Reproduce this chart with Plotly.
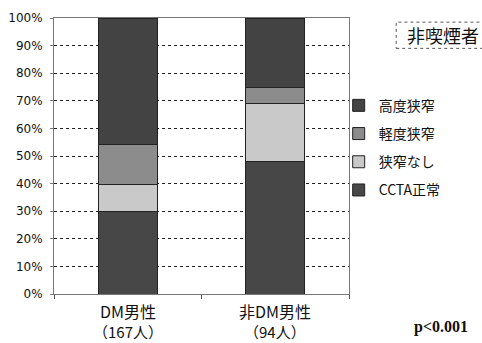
import plotly.graph_objects as go

# Groups on the x axis (name, patient count)
groups = ["DM男性", "非DM男性"]
counts = ["（167人）", "（94人）"]

# Share of each finding per group (%), stacked bottom to top
ccta_normal = [30, 48]
no_stenosis = [9.5, 21]
mild_stenosis = [14.5, 6]
severe_stenosis = [46, 25]

series = [
    ("CCTA正常", ccta_normal, "#474747"),
    ("狭窄なし", no_stenosis, "#c9c9c9"),
    ("軽度狭窄", mild_stenosis, "#8c8c8c"),
    ("高度狭窄", severe_stenosis, "#434343"),
]

y_ticks = list(range(0, 101, 10))
y_tick_text = [f"{v}%" for v in y_ticks]

fig = go.Figure()
for i, (name, vals, color) in enumerate(series):
    fig.add_trace(go.Bar(
        x=groups, y=vals, name=name, legendgroup=name,
        legendrank=len(series) - i,
        marker=dict(color=color, line=dict(color="#222222", width=1)),
        width=0.4,
    ))

fig.update_layout(
    width=482, height=343,
    margin=dict(l=54, r=133, t=18, b=49, autoexpand=False),
    barmode="stack",
    plot_bgcolor="white", paper_bgcolor="white",
    font=dict(family="Noto Sans CJK JP, Noto Sans, sans-serif", color="#111111"),
    showlegend=True,
    legend=dict(
        x=0.965, xanchor="left", y=0.74, yanchor="top",
        traceorder="grouped", tracegroupgap=7,
        font=dict(size=14, color="#111111"),
        itemwidth=30, bgcolor="rgba(0,0,0,0)",
    ),
    bargap=0.6,
)

fig.update_yaxes(
    range=[0, 100], tickvals=y_ticks, ticktext=y_tick_text,
    tickfont=dict(size=12, family="DejaVu Sans, sans-serif", color="#111111"),
    showgrid=True, gridcolor="#222222", griddash="dot", gridwidth=1,
    showline=True, linecolor="#777777", linewidth=1, mirror=True,
    ticks="outside", ticklen=3, tickcolor="#777777", ticklabelstandoff=5,
    zeroline=False,
)
fig.update_xaxes(
    showticklabels=False,
    showline=True, linecolor="#777777", linewidth=1, mirror=True,
    ticks="outside", ticklen=4, tickcolor="#555555", tickson="boundaries",
)

# Two-line category labels under each bar
for g, c in zip(groups, counts):
    fig.add_annotation(x=g, xref="x", y=-0.06, yref="paper",
                       xanchor="center", yanchor="middle",
                       text=g, showarrow=False,
                       font=dict(size=16, color="#111111"))
    fig.add_annotation(x=g, xref="x", y=-0.135, yref="paper",
                       xanchor="center", yanchor="middle",
                       text=c, showarrow=False,
                       font=dict(size=15, color="#111111"))

# Subgroup box
fig.add_shape(type="rect", xref="paper", yref="paper",
              x0=1.16, x1=1.46, y0=0.89, y1=0.985,
              line=dict(color="#555555", width=1, dash="dot"),
              fillcolor="rgba(0,0,0,0)", layer="below")
fig.add_annotation(xref="paper", yref="paper", x=1.318, y=0.938,
                   xanchor="center", yanchor="middle",
                   text="非喫煙者", showarrow=False,
                   font=dict(size=18, color="#111111"))

# Significance
fig.add_annotation(xref="paper", yref="paper", x=1.312, y=-0.12,
                   xanchor="center", yanchor="middle",
                   text="<b>p&lt;0.001</b>", showarrow=False,
                   font=dict(size=16, family="Liberation Serif, serif", color="#111111"))

fig.write_html("out.html")
